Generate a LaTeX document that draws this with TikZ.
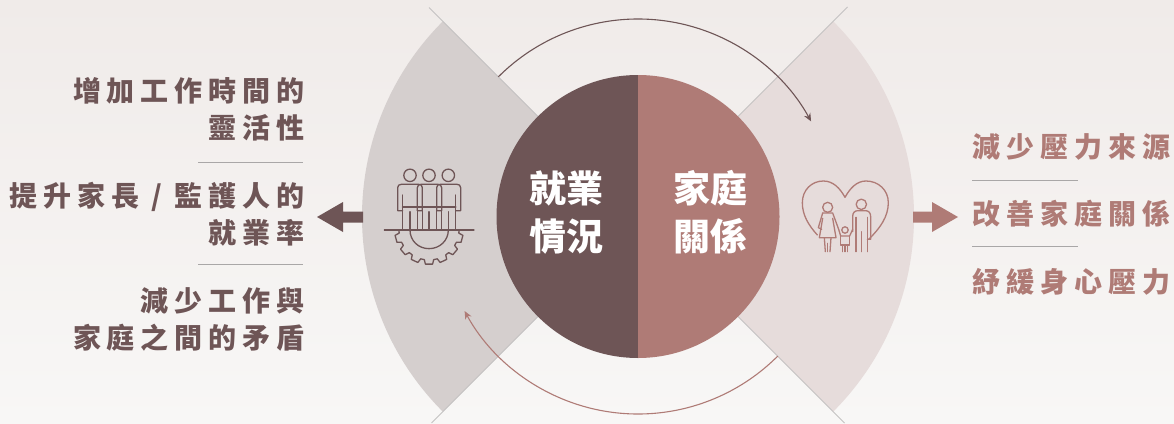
\documentclass[tikz,border=0pt]{standalone}
\usepackage{fontspec}
\usepackage{tikz}
\usetikzlibrary{arrows.meta}
\newfontfamily\cjk[LetterSpace=21,BoldFont={Noto Sans CJK TC Black}]{Noto Sans CJK TC}
\newfontfamily\cjkplain[BoldFont={Noto Sans CJK TC Black}]{Noto Sans CJK TC}
\definecolor{darkrose}{HTML}{6E5556}
\definecolor{lightrose}{HTML}{AF7B76}
\definecolor{sectorleft}{HTML}{D5CFCE}
\definecolor{sectorright}{HTML}{E6DCDB}
\definecolor{bgtop}{HTML}{F0EBE9}
\definecolor{bgbottom}{HTML}{F8F7F6}
\definecolor{rulegray}{HTML}{C4C2C2}
\definecolor{sepgray}{HTML}{A9A7A7}
\tikzset{
	leftitem/.style={anchor=east,inner sep=0pt,align=right,text=darkrose,font=\cjk\bfseries\fontsize{28}{37}\selectfont},
	rightitem/.style={anchor=west,inner sep=0pt,text=lightrose,font=\cjk\bfseries\fontsize{28}{37}\selectfont},
	centeritem/.style={anchor=center,inner sep=0pt,align=center,text=white,font=\cjkplain\bfseries\fontsize{37}{48}\selectfont},
	sepline/.style={draw=sepgray,line width=0.9pt},
	spoke/.style={draw=rulegray,line width=1pt},
	iconline/.style={line width=1.3pt,line join=round,line cap=round}
}
\begin{document}
\begin{tikzpicture}[x=1pt,y=-1pt]
	\useasboundingbox (0,0) rectangle (1174,423);
	\shade[top color=bgtop,bottom color=bgbottom] (0,0) rectangle (1174,423);
	\coordinate (o) at (638,216.5);

	\fill[sectorleft] (o) -- ([shift={(135:276pt)}]o) arc (135:225:276pt) -- cycle;
	\fill[sectorright] (o) -- ([shift={(-45:276pt)}]o) arc (-45:45:276pt) -- cycle;

	\coordinate (nw) at (429,7.5);
	\coordinate (ne) at (847.5,7);
	\coordinate (sw) at (431.5,423);
	\coordinate (se) at (844.5,423);
	\draw[spoke] (nw) -- (o);
	\draw[spoke] (ne) -- (o);
	\draw[spoke] (sw) -- (o);
	\draw[spoke] (se) -- (o);

	\fill[darkrose] (638,75) arc (90:270:141.5pt) -- cycle;
	\fill[lightrose] (638,75) arc (90:-90:141.5pt) -- cycle;

	\draw[darkrose,line width=1.1pt,-{Stealth[length=8pt,width=7pt]}] ([shift={(135:197.5pt)}]o) arc (135:28.8:197.5pt);
	\draw[lightrose,line width=1.1pt,-{Stealth[length=8pt,width=7pt]}] ([shift={(-45:197.5pt)}]o) arc (-45:-151.4:197.5pt);

	\node[centeritem] (work) at (566.5,212.5) {就業\\情況};
	\node[centeritem] (home) at (710.5,212.5) {家庭\\關係};

	\fill[darkrose] (317,217) -- (343,202) -- (343,211.5) -- (363,211.5) -- (363,222.5) -- (343,222.5) -- (343,232) -- cycle;
	\fill[lightrose] (958,217) -- (932,202) -- (932,211.5) -- (913,211.5) -- (913,222.5) -- (932,222.5) -- (932,232) -- cycle;

	\node[leftitem] (hours) at (304.5,109) {增加工作時間的\\靈活性};
	\node[leftitem] (jobs) at (304.5,214) {提升家長 / 監護人的\\就業率};
	\node[leftitem] (conflict) at (304.5,319) {減少工作與\\家庭之間的矛盾};

	\coordinate (sepa) at (198,162.5);
	\coordinate (sepb) at (303,162.5);
	\coordinate (sepc) at (198,264.5);
	\coordinate (sepd) at (303,264.5);
	\draw[sepline] (sepa) -- (sepb);
	\draw[sepline] (sepc) -- (sepd);

	\node[rightitem] (stress) at (972.5,147) {減少壓力來源};
	\node[rightitem] (family) at (972.5,214) {改善家庭關係};
	\node[rightitem] (relief) at (972.5,282) {紓緩身心壓力};

	\coordinate (sepe) at (972,180);
	\coordinate (sepf) at (1078,180);
	\coordinate (sepg) at (972,246.5);
	\coordinate (seph) at (1078,246.5);
	\draw[sepline] (sepe) -- (sepf);
	\draw[sepline] (sepg) -- (seph);

	\begin{scope}[shift={(360,150)},x=0.3333pt,y=-0.3333pt,iconline,draw=darkrose]
		\draw (150,76) circle (6.2pt);
		\draw (207,76) circle (6.2pt);
		\draw (265,76) circle (6.2pt);
		\draw (128,182) -- (113,182) -- (113,113) .. controls (113,106) and (118,103) .. (124,103) -- (176,103) .. controls (182,103) and (187,106) .. (187,113) -- (187,182) -- (172,182);
		\draw (172,182) -- (172,113) .. controls (172,106) and (177,103) .. (183,103) -- (234,103) .. controls (240,103) and (245,106) .. (245,113) -- (245,182) -- (230,182);
		\draw (230,182) -- (230,113) .. controls (230,106) and (235,103) .. (241,103) -- (291,103) .. controls (297,103) and (302,106) .. (302,113) -- (302,182) -- (287,182);
		\draw (128,135) -- (128,240);
		\draw (172,135) -- (172,240);
		\draw (187,135) -- (187,240);
		\draw (230,135) -- (230,240);
		\draw (245,135) -- (245,240);
		\draw (287,135) -- (287,240);
		\draw (150,185) -- (150,240);
		\draw (207,185) -- (207,240);
		\draw (265,185) -- (265,240);
		\draw[line width=1.8pt] (128,170) -- (287,170);
		\draw (73,240) -- (342,240);
		\draw (150,240) .. controls (150,272) and (175,296) .. (207,296) .. controls (239,296) and (265,272) .. (265,240);
		\draw[shift={(207,240)}] (0:90) \foreach \a in {15,40,65,90,115,140,165} { -- (\a-9:90) -- (\a-6:103) -- (\a+6:103) -- (\a+9:90) } -- (180:90);
	\end{scope}

	\begin{scope}[shift={(780,160)},x=0.3333pt,y=-0.3333pt,iconline,draw=lightrose]
		\draw (112,225) .. controls (85,195) and (67,165) .. (67,128) .. controls (67,90) and (95,63) .. (130,63) .. controls (160,63) and (180,85) .. (195,112) .. controls (210,85) and (230,63) .. (258,63) .. controls (295,63) and (325,90) .. (325,128) .. controls (325,170) and (300,205) .. (266,238);
		\draw (143,142) circle (5pt);
		\draw (128,159) -- (158,159) -- (176,208);
		\draw (128,159) -- (115,203) -- (125,208);
		\draw (128,175) -- (118,233) -- (168,233) -- (158,175);
		\draw (133,233) -- (136,275);
		\draw (153,233) -- (150,275);
		\draw (143,250) -- (143,275);
		\draw (195,210) circle (3.2pt);
		\draw (176,208) -- (182,228) -- (209,228) -- (218,208);
		\draw (182,228) -- (182,255) -- (209,255) -- (209,228);
		\draw (187,255) -- (187,275);
		\draw (203,255) -- (203,275);
		\draw (195,255) -- (195,275);
		\draw (244,133) circle (5.2pt);
		\draw (218,215) -- (218,170) .. controls (218,158) and (224,152) .. (234,152) -- (256,152) .. controls (266,152) and (272,158) .. (272,170) -- (272,238) -- (262,238);
		\draw (228,172) -- (228,275);
		\draw (262,172) -- (262,275);
		\draw (244,215) -- (244,275);
	\end{scope}
\end{tikzpicture}
\end{document}
